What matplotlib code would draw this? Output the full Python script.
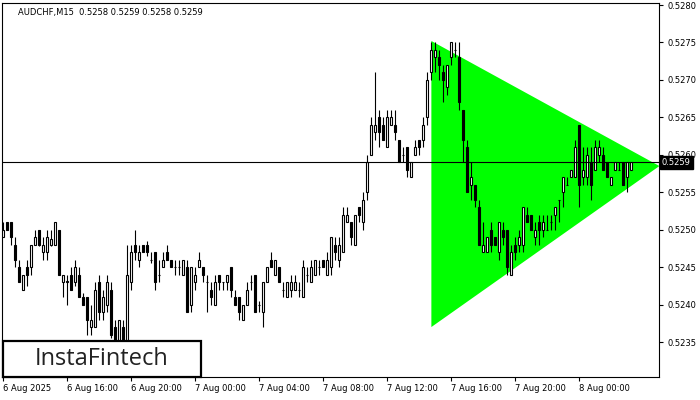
import numpy as np
import matplotlib.pyplot as plt
from matplotlib.patches import Rectangle
from matplotlib.transforms import blended_transform_factory

# AUDCHF M15 candles, 6 Aug 12:00 -> 8 Aug 03:15
opens = [0.5249, 0.5251, 0.5251, 0.5248, 0.5245, 0.5242, 0.5245, 0.5245, 0.5248, 0.5250,
         0.5247, 0.5247, 0.5248, 0.5248, 0.5250, 0.5243, 0.5243, 0.5244, 0.5243, 0.5244,
         0.5241, 0.5241, 0.5237, 0.5237, 0.5243, 0.5239, 0.5240, 0.5242, 0.5237, 0.5235,
         0.5237, 0.5235, 0.5243, 0.5248, 0.5246, 0.5248, 0.5248, 0.5246, 0.5247, 0.5244,
         0.5245, 0.5247, 0.5246, 0.5245, 0.5245, 0.5244, 0.5245, 0.5240, 0.5243, 0.5245,
         0.5245, 0.5243, 0.5242, 0.5240, 0.5244, 0.5243, 0.5243, 0.5245, 0.5241, 0.5241,
         0.5238, 0.5240, 0.5243, 0.5244, 0.5240, 0.5239, 0.5243, 0.5246, 0.5244, 0.5245,
         0.5242, 0.5241, 0.5242, 0.5242, 0.5242, 0.5241, 0.5244, 0.5243, 0.5244, 0.5245,
         0.5246, 0.5244, 0.5245, 0.5248, 0.5246, 0.5247, 0.5251, 0.5251, 0.5248, 0.5253,
         0.5251, 0.5255, 0.5260, 0.5263, 0.5265, 0.5264, 0.5261, 0.5264, 0.5264, 0.5262,
         0.5260, 0.5261, 0.5257, 0.5260, 0.5262, 0.5262, 0.5265, 0.5271, 0.5273, 0.5273,
         0.5271, 0.5269, 0.5273, 0.5274, 0.5273, 0.5266, 0.5261, 0.5256, 0.5256, 0.5253,
         0.5247, 0.5247, 0.5250, 0.5249, 0.5247, 0.5250, 0.5250, 0.5244, 0.5248, 0.5248,
         0.5248, 0.5252, 0.5252, 0.5249, 0.5251, 0.5250, 0.5250, 0.5251, 0.5252, 0.5254,
         0.5255, 0.5256, 0.5257, 0.5257, 0.5264, 0.5257, 0.5257, 0.5259, 0.5258, 0.5260,
         0.5260, 0.5259, 0.5256, 0.5258, 0.5258, 0.5259, 0.5257, 0.5258]
highs = [0.5251, 0.5251, 0.5251, 0.5249, 0.5246, 0.5244, 0.5246, 0.5248, 0.5250, 0.5250,
         0.5249, 0.5250, 0.5250, 0.5251, 0.5250, 0.5244, 0.5244, 0.5245, 0.5246, 0.5245,
         0.52415, 0.5241, 0.5240, 0.5243, 0.5244, 0.5242, 0.5244, 0.5243, 0.5238, 0.5238,
         0.5238, 0.5248, 0.5248, 0.5250, 0.5248, 0.5248, 0.52485, 0.5247, 0.5247, 0.5246,
         0.5247, 0.5248, 0.5246, 0.5246, 0.5246, 0.5246, 0.5246, 0.5245, 0.5245, 0.5247,
         0.5245, 0.5244, 0.5243, 0.5244, 0.5244, 0.5243, 0.5244, 0.5245, 0.5242, 0.5241,
         0.5240, 0.5243, 0.5244, 0.5244, 0.52405, 0.5243, 0.5245, 0.5247, 0.5246, 0.5245,
         0.5243, 0.5243, 0.5244, 0.5244, 0.5243, 0.5246, 0.5245, 0.5246, 0.5246, 0.5246,
         0.5246, 0.5247, 0.5249, 0.5249, 0.5249, 0.5253, 0.5253, 0.5251, 0.5252, 0.5253,
         0.5255, 0.5260, 0.5265, 0.5271, 0.5266, 0.5265, 0.5266, 0.5266, 0.5266, 0.5262,
         0.5261, 0.5261, 0.5259, 0.5262, 0.5262, 0.5265, 0.5271, 0.5275, 0.5275, 0.5274,
         0.5272, 0.5272, 0.5275, 0.5275, 0.5275, 0.5266, 0.5262, 0.5259, 0.5256, 0.5254,
         0.5251, 0.5249, 0.5251, 0.5249, 0.5251, 0.5251, 0.5250, 0.5248, 0.5249, 0.5250,
         0.5253, 0.5253, 0.5252, 0.5251, 0.5252, 0.5252, 0.5252, 0.5252, 0.5253, 0.5254,
         0.5257, 0.5257, 0.5258, 0.5262, 0.5264, 0.5261, 0.5261, 0.5261, 0.5262, 0.5262,
         0.5261, 0.5259, 0.5257, 0.5259, 0.5259, 0.5259, 0.5259, 0.5259]
lows = [0.5249, 0.5250, 0.5248, 0.5245, 0.5243, 0.5242, 0.52425, 0.5244, 0.5248, 0.52478,
        0.5246, 0.5246, 0.52478, 0.5248, 0.5244, 0.5241, 0.5240, 0.5242, 0.52425, 0.5241,
        0.5240, 0.5236, 0.5236, 0.5237, 0.5238, 0.5238, 0.5239, 0.52355, 0.5234, 0.5234,
        0.52335, 0.5234, 0.5242, 0.5246, 0.5245, 0.5247, 0.52465, 0.52455, 0.5242, 0.5243,
        0.5245, 0.5246, 0.5245, 0.5244, 0.5244, 0.5244, 0.5239, 0.5239, 0.5242, 0.5245,
        0.5243, 0.5239, 0.5240, 0.5240, 0.5242, 0.5242, 0.5242, 0.5241, 0.5240, 0.5238,
        0.5238, 0.5240, 0.5242, 0.5239, 0.5239, 0.5237, 0.5243, 0.5245, 0.5244, 0.5243,
        0.5241, 0.5241, 0.5241, 0.5242, 0.5241, 0.5241, 0.5243, 0.5243, 0.5244, 0.5244,
        0.5245, 0.5244, 0.5244, 0.5246, 0.5245, 0.5247, 0.5251, 0.5248, 0.5248, 0.5251,
        0.5250, 0.5254, 0.5260, 0.5262, 0.5261, 0.5262, 0.5261, 0.5264, 0.5262, 0.5259,
        0.5259, 0.5257, 0.5257, 0.5260, 0.5260, 0.5261, 0.5264, 0.5270, 0.5271, 0.5270,
        0.5267, 0.5268, 0.5272, 0.5273, 0.5266, 0.5259, 0.5255, 0.5254, 0.5253, 0.5248,
        0.5247, 0.5247, 0.5247, 0.5248, 0.5246, 0.5248, 0.5244, 0.5244, 0.5246, 0.5247,
        0.5247, 0.5251, 0.5250, 0.5248, 0.5248, 0.5249, 0.5250, 0.5250, 0.5250, 0.5251,
        0.5253, 0.5256, 0.5257, 0.5257, 0.5253, 0.5256, 0.5256, 0.5254, 0.5258, 0.5259,
        0.5258, 0.5257, 0.5256, 0.5258, 0.5258, 0.5256, 0.5255, 0.5258]
closes = [0.5250, 0.5250, 0.5249, 0.5246, 0.5243, 0.5244, 0.5244, 0.5248, 0.5249, 0.5248,
          0.5248, 0.5249, 0.52488, 0.5251, 0.5244, 0.5244, 0.52432, 0.5242, 0.5245, 0.5241,
          0.5240, 0.5238, 0.5238, 0.5242, 0.5239, 0.5241, 0.5243, 0.5236, 0.5235, 0.5238,
          0.5235, 0.5244, 0.5247, 0.5247, 0.5247, 0.5247, 0.5247, 0.5246, 0.5243, 0.5244,
          0.5246, 0.5246, 0.5245, 0.5245, 0.5245, 0.5246, 0.5239, 0.5245, 0.5244, 0.5246,
          0.5244, 0.5243, 0.5241, 0.5243, 0.5243, 0.5243, 0.5244, 0.5242, 0.5240, 0.5239,
          0.5240, 0.5242, 0.5243, 0.5239, 0.5240, 0.5243, 0.5245, 0.5245, 0.5246, 0.5243,
          0.5242, 0.5243, 0.5243, 0.5243, 0.5242, 0.5245, 0.5244, 0.5245, 0.5246, 0.5245,
          0.5245, 0.5246, 0.5249, 0.5247, 0.5248, 0.5252, 0.5252, 0.5249, 0.5252, 0.5252,
          0.5254, 0.5259, 0.5264, 0.5264, 0.5263, 0.5262, 0.5265, 0.5265, 0.5263, 0.5259,
          0.5260, 0.5258, 0.5259, 0.5261, 0.5261, 0.5264, 0.5270, 0.5274, 0.5274, 0.5272,
          0.5270, 0.5272, 0.5275, 0.5274, 0.5267, 0.5262, 0.5255, 0.5257, 0.5254, 0.5248,
          0.5248, 0.5249, 0.5248, 0.5248, 0.5251, 0.5249, 0.5245, 0.5247, 0.5247, 0.5249,
          0.5253, 0.5251, 0.5250, 0.5250, 0.5250, 0.5251, 0.5250, 0.5251, 0.5253, 0.5254,
          0.5257, 0.5256, 0.5258, 0.5261, 0.5256, 0.5258, 0.5260, 0.5256, 0.5261, 0.5261,
          0.5258, 0.5257, 0.5257, 0.5259, 0.5258, 0.5256, 0.5259, 0.5259]

time_ticks = [0, 16, 32, 48, 64, 80, 96, 112, 128, 144]
time_labels = ['6 Aug 2025', '6 Aug 16:00', '6 Aug 20:00', '7 Aug 00:00', '7 Aug 04:00',
               '7 Aug 08:00', '7 Aug 12:00', '7 Aug 16:00', '7 Aug 20:00', '8 Aug 00:00']
price_ticks = [0.5235, 0.5240, 0.5245, 0.5250, 0.5255, 0.5260, 0.5265, 0.5270, 0.5275, 0.5280]

# symmetrical triangle pattern (bar index, price)
triangle_x = [107, 107, 164]
triangle_y = [0.52752, 0.5237, 0.52585]

last_price = 0.5259
header = 'AUDCHF,M15  0.5258 0.5259 0.5258 0.5259'

W, H = 700, 400
fig = plt.figure(figsize=(7, 4), dpi=100)
ax = fig.add_axes([2 / W, 23 / H, 657 / W, 374 / H])

o = np.array(opens)
hi = np.array(highs)
lo = np.array(lows)
c = np.array(closes)
idx = np.arange(len(o))

ax.fill(triangle_x, triangle_y, color='#00ff00', lw=0, zorder=1)

ax.vlines(idx, lo, hi, color='black', lw=0.8, zorder=2)
up = c >= o
ax.bar(idx[up], (c - o)[up], bottom=o[up], width=0.55, color='white',
       edgecolor='black', lw=0.8, zorder=3)
ax.bar(idx[~up], (o - c)[~up], bottom=c[~up], width=0.55, color='black',
       edgecolor='black', lw=0.8, zorder=3)

ax.axhline(last_price, color='black', lw=0.8, zorder=4)

ax.set_xlim(-0.33, 163.9)
ax.set_ylim(0.523033, 0.528027)

ax.yaxis.tick_right()
ax.set_yticks(price_ticks)
ax.set_yticklabels(['%.4f' % p for p in price_ticks])
ax.tick_params(axis='y', length=3, width=0.8, pad=3, labelsize=6)
ax.set_xticks(time_ticks)
ax.set_xticklabels(time_labels, ha='left')
ax.tick_params(axis='x', length=3, width=0.8, pad=2, labelsize=6)
for s in ax.spines.values():
    s.set_linewidth(0.8)

# last price marker on the price scale
trans = blended_transform_factory(ax.transAxes, ax.transData)
ax.text(1.004, last_price, '%.4f' % last_price, transform=trans, ha='left', va='center',
        color='white', fontsize=6, zorder=6,
        bbox=dict(boxstyle='square,pad=0.25', fc='black', ec='black'))

fig.text(18 / W, 1 - 12 / H, header, fontsize=6, va='center')

# logo box
fig.add_artist(Rectangle((3 / W, 23 / H), 198 / W, 36 / H, transform=fig.transFigure,
                         facecolor='white', edgecolor='black', lw=1.6, zorder=5))
fig.text(102 / W, 1 - 359 / H, 'InstaFintech', fontsize=17, family='Open Sans',
         color='#222222', ha='center', va='center', zorder=6)

fig.savefig('out.png', dpi=100)
